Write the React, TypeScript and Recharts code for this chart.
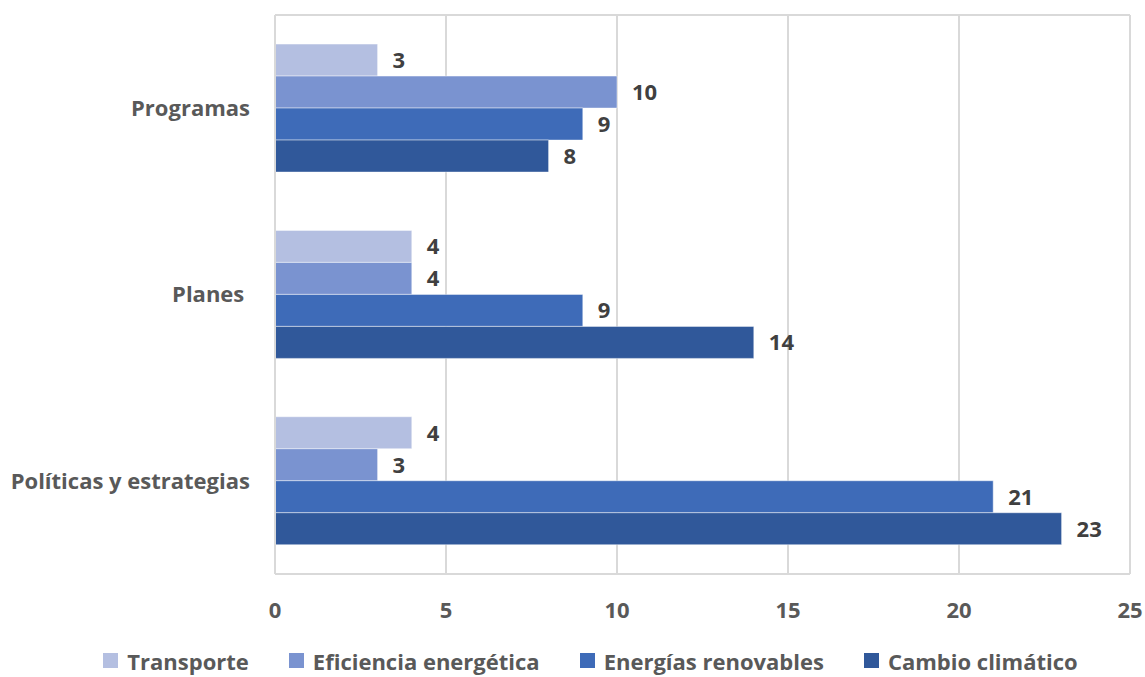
import React from 'react';
import { BarChart, Bar, XAxis, YAxis, CartesianGrid, Legend, LabelList } from 'recharts';

const categories = ['Programas', 'Planes\u00A0', 'Políticas y estrategias'];
const transporte = [3, 4, 4];
const eficiencia = [10, 4, 3];
const renovables = [9, 9, 21];
const cambio = [8, 14, 23];
const xTicks = [0, 5, 10, 15, 20, 25];

const seriesNames = ['Transporte', 'Eficiencia energética', 'Energías renovables', 'Cambio climático'];
const seriesKeys = ['transporte', 'eficiencia', 'renovables', 'cambio'];
const colors = ['#b4bfe1', '#7a93d0', '#3e6bb8', '#30589a'];

const data = categories.map((c, i) => ({
  name: c,
  transporte: transporte[i],
  eficiencia: eficiencia[i],
  renovables: renovables[i],
  cambio: cambio[i],
}));

const FONT = '"Open Sans", "Noto Sans", sans-serif';
const FS = 22;

const LegendContent = () => (
  <div
    style={{
      height: 35,
      display: 'flex',
      justifyContent: 'center',
      alignItems: 'center',
      paddingTop: 2,
      paddingLeft: 51,
      boxSizing: 'border-box',
      fontFamily: FONT,
      fontSize: FS,
      fontWeight: 700,
      color: '#595959',
      whiteSpace: 'nowrap',
      lineHeight: 1,
    }}
  >
    {seriesNames.map((n, i) => (
      <div key={n} style={{ display: 'flex', alignItems: 'center', marginRight: i < seriesNames.length - 1 ? 40 : 0 }}>
        <span style={{ display: 'inline-block', width: 15, height: 15, background: colors[i], marginRight: 9 }} />
        <span style={{ lineHeight: 1 }}>{n}</span>
      </div>
    ))}
  </div>
);

export default function App() {
  return (
    <div style={{ position: 'absolute', left: 0, top: 0, width: 1145, height: 677, background: '#fff' }}>
      <BarChart
        width={1145}
        height={677}
        data={data}
        layout="vertical"
        margin={{ top: 15, right: 15, left: 0, bottom: 0 }}
        barCategoryGap="15.6%"
        barGap={0}
      >
        <CartesianGrid
          stroke="#d9d9d9"
          strokeWidth={2}
          vertical
          horizontal
          horizontalCoordinatesGenerator={({ offset }: any) => [offset.top, offset.top + offset.height]}
        />
        <XAxis
          type="number"
          domain={[0, 25]}
          ticks={xTicks}
          axisLine={{ stroke: '#d9d9d9', strokeWidth: 2 }}
          tickLine={false}
          tickMargin={22}
          height={68}
          tick={{ fill: '#595959', fontSize: FS, fontWeight: 700, fontFamily: FONT }}
        />
        <YAxis
          type="category"
          dataKey="name"
          width={275}
          axisLine={{ stroke: '#d9d9d9', strokeWidth: 2 }}
          tickLine={false}
          tickMargin={19}
          tick={{ fill: '#595959', fontSize: FS, fontWeight: 700, fontFamily: FONT }}
        />
        <Legend verticalAlign="bottom" align="center" height={35} content={<LegendContent />} />
        {seriesKeys.map((k, i) => (
          <Bar
            key={k}
            dataKey={k}
            name={seriesNames[i]}
            fill={colors[i]}
            stroke="rgba(255,255,255,0.45)"
            strokeWidth={1}
            isAnimationActive={false}
          >
            <LabelList
              dataKey={k}
              position="right"
              offset={15}
              style={{ fill: '#404040', fontSize: FS, fontWeight: 700, fontFamily: FONT }}
            />
          </Bar>
        ))}
      </BarChart>
    </div>
  );
}
